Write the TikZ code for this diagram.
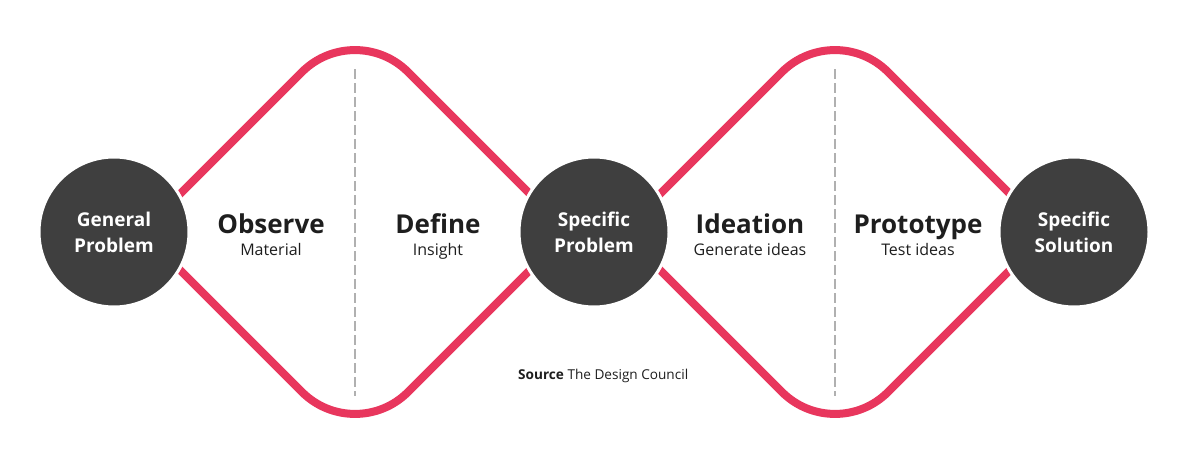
\documentclass[tikz,border=0pt]{standalone}
\usepackage{fontspec}
\setmainfont{Open Sans}
\definecolor{pinkline}{HTML}{E8365D}
\definecolor{circfill}{HTML}{3F3F3F}
\definecolor{dashgray}{HTML}{B0B0B0}
\definecolor{textdark}{HTML}{1E1E1E}
\begin{document}
\begin{tikzpicture}[x=1pt,y=-1pt,
  wave/.style={draw=pinkline, line width=8pt, rounded corners=75pt},
  divider/.style={draw=dashgray, line width=2.5pt, dash pattern=on 10pt off 4pt},
  stage/.style={circle, fill=circfill, draw=white, line width=3pt, minimum size=150pt, inner sep=0pt, text=white, font=\fontsize{19}{26}\selectfont\bfseries, align=center},
  phase/.style={anchor=base, text=textdark, font=\fontsize{26}{30}\selectfont\bfseries, inner sep=0pt},
  phasesub/.style={anchor=base, text=textdark, font=\fontsize{16}{19}\selectfont, inner sep=0pt},
  source/.style={anchor=base west, text=textdark, font=\fontsize{13.6}{16}\selectfont, inner sep=0pt}]
\fill[white] (0,0) rectangle (1200,471);
\useasboundingbox (0,0) rectangle (1200,471);
% diamond vertices
\coordinate (l1) at (142,232);
\coordinate (t1) at (355,19);
\coordinate (r1) at (568,232);
\coordinate (b1) at (355,445);
\coordinate (l2) at (622,232);
\coordinate (t2) at (835,19);
\coordinate (r2) at (1048,232);
\coordinate (b2) at (835,445);
% dividers
\coordinate (d1a) at (355,69);
\coordinate (d1b) at (355,396);
\coordinate (d2a) at (835,69);
\coordinate (d2b) at (835,396);
\draw[divider] (d1a) -- (d1b);
\draw[divider] (d2a) -- (d2b);
% diamonds
\draw[wave] (l1) -- (t1) -- (r1);
\draw[wave] (l1) -- (b1) -- (r1);
\draw[wave] (l2) -- (t2) -- (r2);
\draw[wave] (l2) -- (b2) -- (r2);
% circles
\node[stage] (gp) at (114,232) {General\\Problem};
\node[stage] (sp) at (594,232) {Specific\\Problem};
\node[stage] (ss) at (1074,232) {Specific\\Solution};
% phases
\node[phase] (obs) at (271,233) {Observe};
\node[phasesub] (mat) at (271,255) {Material};
\node[phase] (def) at (438,233) {Define};
\node[phasesub] (ins) at (438,255) {Insight};
\node[phase] (ide) at (750,233) {Ideation};
\node[phasesub] (gen) at (750,255) {Generate ideas};
\node[phase] (pro) at (918,233) {Prototype};
\node[phasesub] (tes) at (918,255) {Test ideas};
\node[source] (src) at (518,379) {\textbf{Source} The Design Council};
\end{tikzpicture}
\end{document}
